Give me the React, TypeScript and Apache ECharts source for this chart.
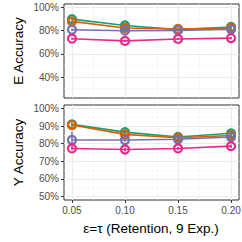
import React, { useEffect, useRef } from "react";
import * as echarts from "echarts";

const xValues = [0.05, 0.1, 0.15, 0.2];
const seriesNames = ["A", "B", "C", "D"];
const colors = ["#1B9E77", "#D95F02", "#7570B3", "#E7298A"];

// E Accuracy (top panel), percent
const eAcc = [
  [90.0, 84.5, 80.9, 83.2],
  [88.0, 82.3, 81.5, 82.3],
  [80.8, 80.0, 80.3, 81.2],
  [73.1, 71.2, 72.9, 73.6],
];
const eErr = [
  [1.0, 1.0, 1.0, 1.0],
  [1.0, 1.0, 1.0, 1.0],
  [1.0, 1.0, 1.0, 1.0],
  [1.0, 1.0, 1.0, 1.0],
];
// Y Accuracy (bottom panel), percent
const yAcc = [
  [91.0, 86.6, 83.8, 85.9],
  [90.6, 85.3, 83.4, 84.7],
  [82.1, 82.1, 82.5, 83.8],
  [77.3, 76.7, 77.3, 78.6],
];
const yErr = [
  [1.0, 1.0, 1.0, 1.0],
  [1.0, 1.0, 1.0, 1.0],
  [4.7, 1.0, 1.0, 1.0],
  [1.0, 1.0, 1.0, 1.0],
];

const xMajor = [0.05, 0.1, 0.15, 0.2];
const xMinor = [0.075, 0.125, 0.175];
const topMajor = [40, 60, 80, 100];
const topMinor = [30, 50, 70, 90];
const botMajor = [50, 60, 70, 80, 90, 100];
const botMinor = [55, 65, 75, 85, 95];
const xTickLabels = ["0.05", "0.10", "0.15", "0.20"];

const gridSeries = (idx: number, yMaj: number[], yMin: number[]) => ({
  type: "line",
  xAxisIndex: idx,
  yAxisIndex: idx,
  data: [],
  silent: true,
  z: 0,
  markLine: {
    silent: true,
    symbol: "none",
    animation: false,
    z: 0,
    label: { show: false },
    emphasis: { disabled: true },
    data: [
      ...xMinor.map((v) => ({ xAxis: v, lineStyle: { color: "#F4F4F4", width: 0.6, type: "solid" } })),
      ...yMin.map((v) => ({ yAxis: v, lineStyle: { color: "#F4F4F4", width: 0.6, type: "solid" } })),
      ...xMajor.map((v) => ({ xAxis: v, lineStyle: { color: "#EBEBEB", width: 1.1, type: "solid" } })),
      ...yMaj.map((v) => ({ yAxis: v, lineStyle: { color: "#EBEBEB", width: 1.1, type: "solid" } })),
    ],
  },
});

const errSeries = (idx: number, vals: number[][], errs: number[][], s: number) => ({
  type: "custom",
  xAxisIndex: idx,
  yAxisIndex: idx,
  z: 2,
  silent: true,
  data: xValues.map((x, i) => [x, vals[s][i] - errs[s][i], vals[s][i] + errs[s][i]]),
  renderItem: (params: any, api: any) => {
    const p1 = api.coord([api.value(0), api.value(1)]);
    const p2 = api.coord([api.value(0), api.value(2)]);
    return {
      type: "line",
      shape: { x1: p1[0], y1: p1[1], x2: p2[0], y2: p2[1] },
      style: { stroke: colors[s], lineWidth: 1.5 },
    };
  },
});

const lineSeries = (idx: number, vals: number[][], s: number) => ({
  type: "line",
  name: seriesNames[s],
  xAxisIndex: idx,
  yAxisIndex: idx,
  z: 3 + s,
  data: xValues.map((x, i) => [x, vals[s][i]]),
  symbol: "circle",
  symbolSize: 8,
  showSymbol: true,
  lineStyle: { color: colors[s], width: 1.6 },
  itemStyle: { color: "rgba(0,0,0,0)", borderColor: colors[s], borderWidth: 2.2 },
  emphasis: { disabled: true },
});

export default function App() {
  const ref = useRef<HTMLDivElement>(null);
  useEffect(() => {
    if (!ref.current) return;
    const chart = echarts.init(ref.current, null, { renderer: "svg" });
    const labelStyle = { color: "#4D4D4D", fontSize: 10, fontFamily: "Liberation Sans, Arial, sans-serif" };
    const xAxisBase = (idx: number, showLabels: boolean) => ({
      type: "value",
      gridIndex: idx,
      min: 0.0425,
      max: 0.2075,
      axisLine: { show: false },
      splitLine: { show: false },
      axisTick: {
        show: showLabels,
        customValues: xMajor,
        length: 3,
        lineStyle: { color: "#333333", width: 1 },
      },
      axisLabel: {
        show: showLabels,
        customValues: xMajor,
        margin: 5,
        ...labelStyle,
        formatter: (v: number) => xTickLabels[xMajor.findIndex((m) => Math.abs(m - v) < 1e-6)] ?? "",
      },
    });
    const yAxisBase = (idx: number, min: number, max: number, ticks: number[]) => ({
      type: "value",
      gridIndex: idx,
      min,
      max,
      axisLine: { show: false },
      splitLine: { show: false },
      axisTick: { show: true, customValues: ticks, length: 3, lineStyle: { color: "#333333", width: 1 } },
      axisLabel: { show: true, customValues: ticks, margin: 5, ...labelStyle, formatter: (v: number) => `${Math.round(v)}%` },
    });
    const series: any[] = [gridSeries(0, topMajor, topMinor), gridSeries(1, botMajor, botMinor)];
    for (let s = 0; s < 4; s++) {
      series.push(errSeries(0, eAcc, eErr, s));
      series.push(errSeries(1, yAcc, yErr, s));
    }
    for (let s = 0; s < 4; s++) {
      series.push(lineSeries(0, eAcc, s));
      series.push(lineSeries(1, yAcc, s));
    }
    chart.setOption({
      animation: false,
      backgroundColor: "#ffffff",
      grid: [
        { left: 64, top: 4, width: 175, height: 94, show: true, borderColor: "#333333", borderWidth: 1, backgroundColor: "#ffffff", outerBoundsMode: "none" },
        { left: 64, top: 105, width: 175, height: 95, show: true, borderColor: "#333333", borderWidth: 1, backgroundColor: "#ffffff", outerBoundsMode: "none" },
      ],
      xAxis: [xAxisBase(0, false), xAxisBase(1, true)],
      yAxis: [yAxisBase(0, 22, 103, topMajor), yAxisBase(1, 48, 102, botMajor)],
      series,
      graphic: [
        {
          type: "text",
          x: 18.5,
          y: 51,
          rotation: Math.PI / 2,
          style: { text: "E Accuracy", fontSize: 13.5, fill: "#000000", align: "center", verticalAlign: "middle", fontFamily: "Liberation Sans, Arial, sans-serif" },
        },
        {
          type: "text",
          x: 18.5,
          y: 152.5,
          rotation: Math.PI / 2,
          style: { text: "Y Accuracy", fontSize: 13.5, fill: "#000000", align: "center", verticalAlign: "middle", fontFamily: "Liberation Sans, Arial, sans-serif" },
        },
        {
          type: "text",
          x: 151,
          y: 228.5,
          style: { text: "ε=τ (Retention, 9 Exp.)", fontSize: 13.5, fill: "#000000", align: "center", verticalAlign: "middle", fontFamily: "Liberation Sans, Arial, sans-serif" },
        },
      ],
    });
    return () => chart.dispose();
  }, []);
  return <div ref={ref} style={{ position: "absolute", left: 0, top: 0, width: 242, height: 242 }} />;
}
